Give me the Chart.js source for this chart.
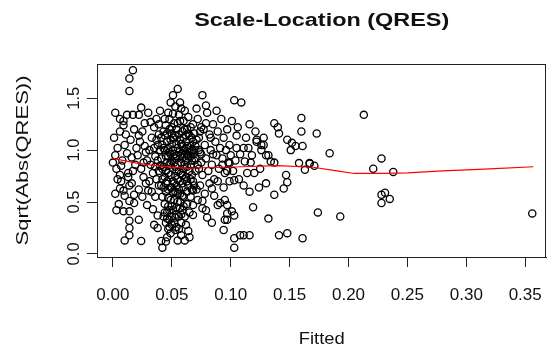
<!DOCTYPE html>
<html lang="en">
<head>
  <meta charset="UTF-8">
  <title>Scale-Location (QRES)</title>
  <script src="https://cdn.jsdelivr.net/npm/chart.js"></script>
  <style>
    html, body { margin: 0; padding: 0; background: #fff; }
    #wrap { width: 560px; height: 353px; }
  </style>
</head>
<body>
  <div id="wrap"><canvas id="slChart" width="560" height="353"></canvas></div>

  <script>
    // fitted value vs sqrt(|QRES|)
    const residualPoints = [
      [0.017,1.77],[0.014,1.69],[0.014,1.57],
      [0.002,1.36],[0.006,1.30],[0.012,1.34],[0.017,1.34],[0.024,1.41],[0.022,1.34],[0.009,1.24],
      [0.055,1.59],[0.051,1.53],[0.057,1.46],[0.049,1.46],
      [0.109,1.46],[0.116,1.25],[0.137,1.26],[0.140,1.22],[0.141,1.16],[0.160,1.31],[0.160,1.18],[0.173,1.16],
      [0.213,1.34],[0.184,0.97],[0.228,0.92],[0.152,1.07],[0.161,1.04],[0.151,1.00],[0.122,1.08],[0.126,1.05],
      [0.130,0.95],[0.167,0.875],[0.076,1.53],[0.079,1.43],[0.103,1.48],
      [0.120,0.78],[0.111,0.66],[0.116,0.60],[0.124,0.64],[0.130,0.68],[0.137,0.57],[0.145,0.63],[0.148,0.69],
      [0.147,0.76],[0.119,0.45],[0.132,0.34],[0.174,0.40],[0.193,0.36],[0.141,0.18],[0.148,0.20],[0.161,0.15],
      [0.111,0.18],[0.116,0.18],[0.163,0.81],[0.167,0.87],[0.171,0.85],[0.221,0.82],[0.228,0.57],[0.231,0.59],
      [0.235,0.53],[0.228,0.49],[0.238,0.79],[0.356,0.39],
      [0.094,0.23],[0.103,0.15],[0.108,0.18],[0.103,0.06],[0.095,0.33],[0.103,0.37],[0.097,0.39],[0.084,0.63],
      [0.094,0.64],[0.099,0.70],[0.076,0.51],[0.079,0.42],[0.089,0.47],
      [0.003,0.42],[0.009,0.41],[0.014,0.41],[0.018,0.49],[0.022,0.33],[0.014,0.32],[0.014,0.25],[0.014,0.18],
      [0.010,0.13],[0.024,0.125],[0.041,0.125],[0.042,0.06],[0.053,0.23],[0.055,0.13],[0.061,0.13],[0.035,0.28],
      [0.038,0.25],
      [0.006,0.76],[0.007,0.70],[0.006,0.63],[0.009,0.61],[0.013,0.78],[0.014,0.66],[0.010,0.56],[0.014,0.51],
      [0.022,0.62],[0.028,0.68],[0.030,0.61],
      [0.105,1.14],[0.105,1.02],[0.111,1.02],[0.115,1.02],[0.118,0.95],[0.122,1.10],[0.128,1.05],[0.126,1.00],
      [0.132,0.95],[0.137,0.88],[0.155,1.04],[0.148,1.10],[0.158,0.875],
      [0.093,0.86],[0.099,0.875],[0.097,0.80],[0.103,0.71],[0.112,0.89],[0.134,0.89],
      [0.068,0.61],[0.068,0.375],[0.091,0.49],[0.095,0.52],[0.097,0.47],[0.101,0.41],[0.097,0.33],
      [0.000,0.88],[0.002,0.95],[0.004,1.02],[0.001,1.12],[0.006,1.18],[0.003,0.82],[0.008,0.90],[0.010,1.05],
      [0.012,0.97],[0.007,0.85],[0.015,1.10],[0.018,1.20],[0.011,1.15],[0.016,0.93],[0.019,0.86],[0.004,0.72],
      [0.013,0.74],[0.017,0.80],[0.020,1.02],[0.009,1.28],[0.002,0.58],[0.018,0.57],[0.016,0.68],[0.005,0.48],
      [0.021,0.95],[0.023,1.08],[0.025,1.18],[0.027,1.26],[0.029,0.90],[0.031,1.00],[0.033,1.12],[0.035,1.22],
      [0.037,1.30],[0.024,0.82],[0.026,0.74],[0.028,0.98],[0.030,1.36],[0.032,0.86],[0.034,0.78],[0.036,0.94],
      [0.038,1.05],[0.039,1.15],[0.022,1.14],[0.026,0.88],[0.031,0.70],[0.033,0.60],[0.036,0.55],[0.039,0.66],
      [0.025,0.55],[0.029,0.47],[0.034,0.43],[0.038,0.37],[0.037,0.72],[0.040,0.85],[0.032,1.27],[0.027,1.04],
      [0.035,1.02],[0.039,1.25],[0.040,1.38],
      [0.041,0.92],[0.042,1.05],[0.043,1.18],[0.044,1.30],[0.045,0.80],[0.046,0.70],[0.047,0.62],[0.048,0.98],
      [0.049,1.10],[0.050,1.22],[0.051,1.35],[0.052,0.88],[0.053,0.75],[0.054,0.66],[0.055,1.02],[0.056,1.15],
      [0.057,1.28],[0.058,1.40],[0.059,0.93],[0.060,0.82],[0.061,0.72],[0.062,1.08],[0.063,1.20],[0.064,1.32],
      [0.065,0.98],[0.066,0.86],[0.067,1.12],[0.068,1.25],[0.069,0.90],[0.070,1.04],
      [0.042,0.55],[0.044,0.48],[0.046,0.40],[0.048,0.33],[0.050,0.28],[0.052,0.52],[0.054,0.45],[0.056,0.36],
      [0.058,0.30],[0.060,0.55],[0.043,0.36],[0.045,0.30],[0.047,0.24],[0.049,0.20],[0.051,0.42],[0.053,0.35],
      [0.055,0.58],[0.057,0.50],[0.059,0.42],[0.061,0.36],[0.063,0.48],[0.065,0.40],[0.062,0.28],[0.064,0.22],
      [0.046,0.16],[0.058,0.18],[0.066,0.55],[0.068,0.47],
      [0.041,1.12],[0.043,0.84],[0.045,1.24],[0.047,0.94],[0.049,0.76],[0.051,1.00],[0.053,1.14],[0.055,0.86],
      [0.057,0.70],[0.059,1.18],[0.061,0.96],[0.063,0.84],[0.065,1.14],[0.067,0.76],[0.069,1.16],[0.044,1.00],
      [0.046,1.08],[0.048,0.86],[0.050,0.64],[0.052,1.26],[0.054,0.94],[0.056,0.80],[0.058,1.06],[0.060,1.28],
      [0.062,0.90],[0.064,0.66],[0.066,1.22],[0.068,0.96],[0.070,0.80],[0.047,1.36],[0.053,1.42],[0.061,1.38],
      [0.045,0.60],[0.049,0.52],[0.053,0.60],[0.057,0.58],[0.060,0.64],[0.042,0.72],[0.050,0.90],[0.054,1.06],
      [0.058,0.78],[0.062,1.02],[0.066,0.94],[0.069,0.66],[0.071,0.62],
      [0.036,0.84],[0.037,1.10],[0.038,0.90],[0.039,0.80],[0.040,1.00],[0.041,0.66],[0.042,0.82],[0.043,1.02],
      [0.044,0.74],[0.045,0.94],[0.046,1.16],[0.047,0.78],[0.048,1.20],[0.049,0.88],[0.050,1.06],[0.051,0.70],
      [0.052,0.96],[0.053,0.84],[0.054,1.20],[0.055,0.72],[0.056,0.98],[0.057,1.10],[0.058,0.88],[0.059,0.68],
      [0.060,1.12],[0.061,0.86],[0.062,0.74],[0.063,1.04],[0.064,0.94],[0.065,0.80],[0.066,1.04],[0.067,0.90],
      [0.068,0.70],[0.069,1.00],[0.070,0.92],[0.071,1.10],[0.072,0.86],[0.073,1.00],[0.074,1.18],[0.075,0.96],
      [0.043,0.64],[0.047,0.54],[0.051,0.60],[0.055,0.50],[0.059,0.56],[0.063,0.60],[0.067,0.62],[0.044,1.14],
      [0.048,1.30],[0.052,1.12],[0.056,1.34],[0.060,1.00],[0.064,1.16],[0.068,1.08],[0.046,0.88],[0.050,1.16],
      [0.054,0.80],[0.058,0.96],[0.062,1.14],[0.066,0.72],
      [0.044,0.40],[0.048,0.42],[0.050,0.36],[0.052,0.30],[0.054,0.26],[0.046,0.34],[0.048,0.26],[0.056,0.24],
      [0.060,0.46],[0.058,0.38],[0.045,0.12],[0.065,0.16],
      [0.045,0.68],[0.049,0.64],[0.052,0.68],[0.056,0.62],[0.059,0.76],[0.063,0.70],[0.047,1.02],[0.051,1.12],
      [0.055,1.26],[0.059,1.04],[0.063,0.96],[0.067,1.00],[0.049,0.96],[0.053,0.92],[0.057,0.94],[0.061,1.20],
      [0.050,0.46],[0.054,0.38],[0.047,0.46],[0.057,0.44],
      [0.072,1.30],[0.073,1.12],[0.074,0.98],[0.075,0.88],[0.076,0.76],[0.077,1.20],[0.078,1.05],[0.079,0.92],
      [0.080,1.36],[0.081,0.80],[0.082,1.15],[0.083,1.00],[0.084,0.86],[0.085,1.25],[0.086,0.72],[0.087,1.08],
      [0.088,0.95],[0.089,1.18],[0.090,0.82],[0.091,1.02],[0.092,1.30],[0.093,0.92],[0.094,1.12],[0.095,0.78],
      [0.096,1.00],[0.097,1.20],[0.098,0.88],[0.099,1.05],[0.100,0.95],[0.074,0.66],[0.078,0.58],[0.082,0.68],
      [0.086,0.56],[0.072,0.52],[0.076,0.44],[0.080,0.35],[0.084,0.30],[0.073,0.82],[0.079,1.26],[0.085,0.96],
      [0.089,0.70],[0.088,1.38],[0.071,1.40],[0.075,1.22],[0.083,1.12],
      [0.101,1.28],[0.104,0.90],[0.106,1.22],[0.108,0.96],[0.113,1.12],[0.117,0.88],[0.121,1.18],[0.125,0.82],
      [0.102,0.80],[0.107,0.72],[0.114,0.78],[0.128,1.12]
    ];

    // red smoother
    const smoothX = [0.000, 0.020, 0.040, 0.063, 0.076, 0.110, 0.140, 0.170, 0.190, 0.205, 0.230, 0.250, 0.280, 0.320, 0.357];
    const smoothY = [0.920, 0.875, 0.845, 0.825, 0.830, 0.840, 0.850, 0.835, 0.800, 0.775, 0.775, 0.780, 0.800, 0.820, 0.840];

    const xTickVals = [0, 0.05, 0.10, 0.15, 0.20, 0.25, 0.30, 0.35];
    const yTickVals = [0, 0.5, 1.0, 1.5];

    const FONT = 'Arial, "Liberation Sans", sans-serif';

    // draw text squeezed/stretched to a given width
    function fitText(ctx, txt, x, y, font, w, rot) {
      ctx.save();
      ctx.font = font;
      ctx.translate(x, y);
      if (rot) ctx.rotate(rot);
      const m = ctx.measureText(txt).width;
      ctx.scale(w / m, 1);
      ctx.textAlign = 'center';
      ctx.textBaseline = 'middle';
      ctx.fillStyle = '#111';
      ctx.fillText(txt, 0, 0);
      ctx.restore();
    }

    const rDecor = {
      id: 'rDecor',
      afterDatasetsDraw(chart) {
        const ctx = chart.ctx;
        const a = chart.chartArea;
        ctx.save();
        ctx.strokeStyle = '#222';
        ctx.lineWidth = 1;
        ctx.strokeRect(Math.round(a.left) + 0.5, Math.round(a.top) + 0.5,
                       Math.round(a.right - a.left) - 1, Math.round(a.bottom - a.top));
        ctx.restore();
      },
      afterDraw(chart) {
        const ctx = chart.ctx;
        const a = chart.chartArea;
        const cx = (a.left + a.right) / 2;
        fitText(ctx, 'Scale-Location (QRES)', cx, 21, 'bold 18px ' + FONT, 255);
        fitText(ctx, 'Fitted', cx, 339, '17px ' + FONT, 46);
        fitText(ctx, 'Sqrt(Abs(QRES))', 23, (a.top + a.bottom) / 2, '17px ' + FONT, 170, -Math.PI / 2);
        const ys = chart.scales.y;
        yTickVals.forEach(v => {
          fitText(ctx, v.toFixed(1), 75, ys.getPixelForValue(v), '16px ' + FONT, 23, -Math.PI / 2);
        });
      }
    };

    const ctx = document.getElementById('slChart').getContext('2d');
    new Chart(ctx, {
      type: 'scatter',
      data: {
        datasets: [
          {
            type: 'line',
            data: smoothX.map((x, i) => ({ x: x, y: smoothY[i] })),
            borderColor: '#ff0000',
            borderWidth: 1.2,
            pointRadius: 0,
            fill: false,
            tension: 0,
            order: 0
          },
          {
            data: residualPoints.map(p => ({ x: p[0], y: p[1] })),
            pointStyle: 'circle',
            pointRadius: 3.6,
            borderWidth: 1.3,
            borderColor: '#000',
            backgroundColor: 'rgba(0,0,0,0)',
            order: 1
          }
        ]
      },
      options: {
        responsive: false,
        animation: false,
        layout: { padding: { top: 64, right: 3, left: 0, bottom: 0 } },
        plugins: {
          legend: { display: false },
          tooltip: { enabled: false },
          title: { display: false }
        },
        scales: {
          x: {
            type: 'linear',
            min: -0.0135,
            max: 0.368,
            afterFit: s => { s.height = 96; },
            afterBuildTicks: s => { s.ticks = xTickVals.map(v => ({ value: v })); },
            grid: { drawOnChartArea: false, drawTicks: true, tickLength: 10, color: '#222' },
            border: { display: true, color: '#222', width: 1 },
            ticks: {
              padding: 18,
              color: '#111',
              font: { size: 17, family: FONT },
              maxRotation: 0,
              autoSkip: false,
              callback: v => v.toFixed(2)
            }
          },
          y: {
            type: 'linear',
            min: -0.03,
            max: 1.83,
            afterFit: s => { s.width = 97; },
            afterBuildTicks: s => { s.ticks = yTickVals.map(v => ({ value: v })); },
            grid: { drawOnChartArea: false, drawTicks: true, tickLength: 10, color: '#222' },
            border: { display: true, color: '#222', width: 1 },
            ticks: { display: false }
          }
        }
      },
      plugins: [rDecor]
    });
  </script>
</body>
</html>
